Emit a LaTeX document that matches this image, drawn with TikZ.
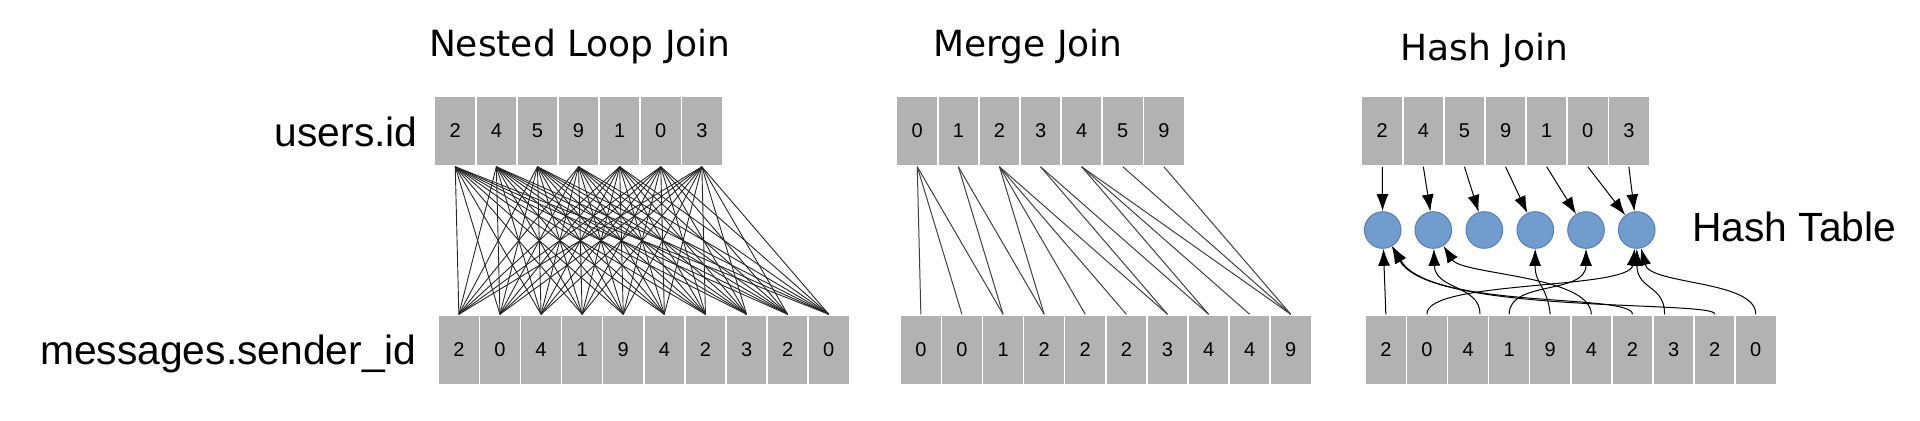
\documentclass[tikz,border=0pt]{standalone}
\usepackage{fontspec}
\setmainfont{Liberation Sans}
\newfontfamily\titlefont{DejaVu Sans}
\usetikzlibrary{arrows.meta}
\definecolor{cellgray}{RGB}{178,178,178}
\definecolor{hashfill}{RGB}{112,157,206}
\definecolor{hashdraw}{RGB}{84,128,184}
\begin{document}
\begin{tikzpicture}[x=0.5pt,y=-0.5pt,
  cell/.style={rectangle, fill=cellgray, draw=white, line width=0.75pt, minimum width=20.55pt, minimum height=35pt, inner sep=0pt, font=\fontsize{10}{12}\selectfont},
  lbl/.style={font=\fontsize{20.4}{24}\selectfont, inner sep=0pt},
  ttl/.style={font=\titlefont\fontsize{18}{22}\selectfont, inner sep=0pt},
  hnode/.style={circle, fill=hashfill, draw=hashdraw, line width=0.5pt, minimum size=18.3pt, inner sep=0pt},
  nl/.style={black!85, line width=0.45pt},
  ml/.style={black!75, line width=0.5pt},
  harr/.style={black, line width=0.5pt, -{Latex[length=8.5pt,width=6pt]}},
]
\useasboundingbox (0,0) rectangle (1920,420);

% titles and labels
\node[ttl, anchor=base west] (title1) at (428.6,56) {Nested Loop Join};
\node[ttl, anchor=base west] (title2) at (933,56) {Merge Join};
\node[ttl, anchor=base west] (title3) at (1400,60) {Hash Join};
\node[lbl, anchor=base east] (users) at (418,146) {users.id};
\node[lbl, anchor=base east] (msgs) at (417,364.3) {messages.sender\_id};
\node[lbl, anchor=base west] (htable) at (1691.7,241) {Hash Table};

% nested loop rows
\foreach \v [count=\i] in {2,4,5,9,1,0,3}
  \node[cell] (nt\i) at ({434.7+41.1*(\i-0.5)},131) {\v};
\foreach \v [count=\i] in {2,0,4,1,9,4,2,3,2,0}
  \node[cell] (nb\i) at ({438.3+41.1*(\i-0.5)},350) {\v};

% merge join rows
\foreach \v [count=\i] in {0,1,2,3,4,5,9}
  \node[cell] (mt\i) at ({896.7+41.1*(\i-0.5)},131) {\v};
\foreach \v [count=\i] in {0,0,1,2,2,2,3,4,4,9}
  \node[cell] (mb\i) at ({900.3+41.1*(\i-0.5)},350) {\v};

% hash join rows
\foreach \v [count=\i] in {2,4,5,9,1,0,3}
  \node[cell] (ht\i) at ({1361.7+41.1*(\i-0.5)},131) {\v};
\foreach \v [count=\i] in {2,0,4,1,9,4,2,3,2,0}
  \node[cell] (hb\i) at ({1365.3+41.1*(\i-0.5)},350) {\v};

% hash table buckets
\foreach \x [count=\i] in {1382.7,1433.3,1484.3,1535.3,1586,1636.7}
  \node[hnode] (c\i) at (\x,230) {};

% nested loop connections
\foreach \i in {1,...,7}
  \foreach \j in {1,...,10}
    \draw[nl] (nt\i.south) -- (nb\j.north);

% merge join connections
\foreach \i/\j in {1/1,1/2,1/3,2/3,2/4,3/4,3/5,3/6,3/7,4/7,4/8,5/8,5/9,5/10,6/10,7/10}
  \draw[ml] (mt\i.south) -- (mb\j.north);

% hash build arrows
\foreach \i/\j in {1/1,2/2,3/3,4/4,5/5,6/6,7/6}
  \draw[harr] (ht\i.south) -- (c\j);

% hash probe arrows
\draw[harr] (hb1.north) -- (c1);
\draw[harr] (hb2.north) .. controls (1425,280) and (1630,290) .. (c6);
\draw[harr] ([xshift=6pt]hb3.north) .. controls (1480,285) and (1435,290) .. (c2);
\draw[harr] (hb4.north) .. controls (1509,280) and (1586,295) .. (c5);
\draw[harr] (hb5.north) .. controls (1547,285) and (1535,285) .. (c4);
\draw[harr] (hb6.north) .. controls (1590,275) and (1462,275) .. (c2);
\draw[harr] (hb7.north) .. controls (1633,293) and (1430,310) .. (c1);
\draw[harr] ([xshift=-4.5pt]hb8.north) .. controls (1665,285) and (1637,290) .. (c6);
\draw[harr] (hb9.north) .. controls (1718,300) and (1430,315) .. (c1);
\draw[harr] (hb10.north) .. controls (1756,280) and (1650,285) .. (c6);
\end{tikzpicture}
\end{document}
